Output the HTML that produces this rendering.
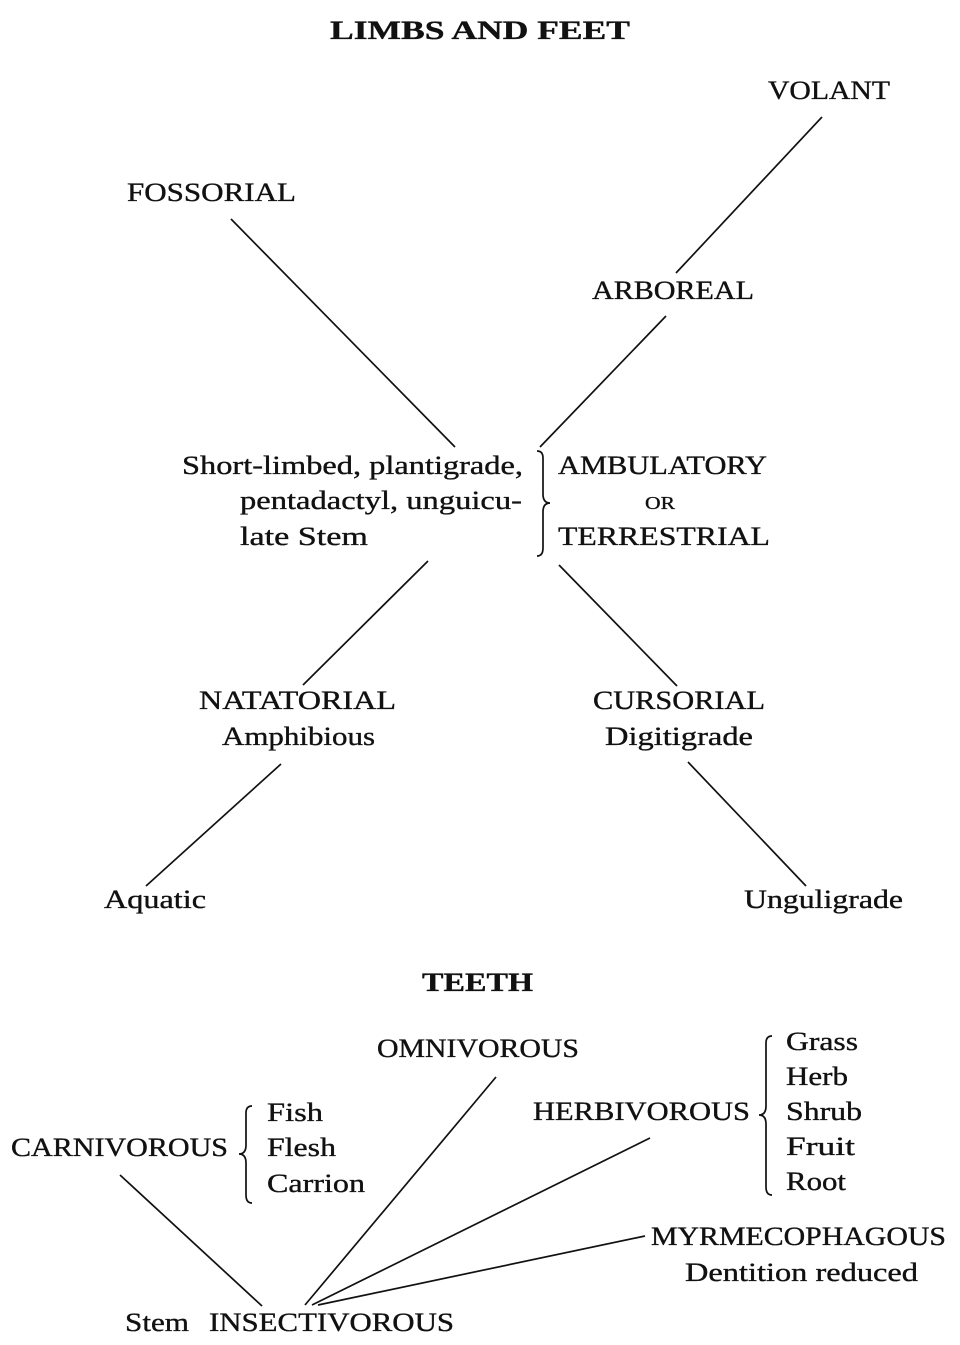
<!DOCTYPE html>
<html><head><meta charset="utf-8"><style>
html,body{margin:0;padding:0;background:#fff;}
svg{display:block;}
text{font-family:"Liberation Serif",serif;font-size:26px;fill:#111;stroke:#111;stroke-width:0.35;}
.b{font-weight:bold;}
line,path{stroke:#111;stroke-width:1.7;fill:none;}
</style></head><body>
<svg width="960" height="1345" viewBox="0 0 960 1345" xmlns="http://www.w3.org/2000/svg">
<text class="b" x="330" y="39" textLength="300" lengthAdjust="spacingAndGlyphs">LIMBS AND FEET</text>
<text x="768" y="99" textLength="122" lengthAdjust="spacingAndGlyphs">VOLANT</text>
<text x="127" y="201" textLength="169" lengthAdjust="spacingAndGlyphs">FOSSORIAL</text>
<text x="592" y="299" textLength="162" lengthAdjust="spacingAndGlyphs">ARBOREAL</text>
<text x="182" y="474" textLength="341" lengthAdjust="spacingAndGlyphs">Short-limbed, plantigrade,</text>
<text x="240" y="509" textLength="282" lengthAdjust="spacingAndGlyphs">pentadactyl, unguicu-</text>
<text x="240" y="545" textLength="128" lengthAdjust="spacingAndGlyphs">late Stem</text>
<text x="558" y="474" textLength="209" lengthAdjust="spacingAndGlyphs">AMBULATORY</text>
<text x="645" y="509" style="font-size:18px" textLength="30" lengthAdjust="spacingAndGlyphs">OR</text>
<text x="558" y="545" textLength="212" lengthAdjust="spacingAndGlyphs">TERRESTRIAL</text>
<text x="199" y="709" textLength="197" lengthAdjust="spacingAndGlyphs">NATATORIAL</text>
<text x="222" y="745" textLength="153" lengthAdjust="spacingAndGlyphs">Amphibious</text>
<text x="593" y="709" textLength="172" lengthAdjust="spacingAndGlyphs">CURSORIAL</text>
<text x="605" y="745" textLength="148" lengthAdjust="spacingAndGlyphs">Digitigrade</text>
<text x="104" y="908" textLength="102" lengthAdjust="spacingAndGlyphs">Aquatic</text>
<text x="744" y="908" textLength="159" lengthAdjust="spacingAndGlyphs">Unguligrade</text>

<text class="b" x="422" y="991" textLength="111" lengthAdjust="spacingAndGlyphs">TEETH</text>
<text x="377" y="1057" textLength="202" lengthAdjust="spacingAndGlyphs">OMNIVOROUS</text>
<text x="533" y="1120" textLength="217" lengthAdjust="spacingAndGlyphs">HERBIVOROUS</text>
<text x="786" y="1050" textLength="72" lengthAdjust="spacingAndGlyphs">Grass</text>
<text x="786" y="1085" textLength="62" lengthAdjust="spacingAndGlyphs">Herb</text>
<text x="786" y="1120" textLength="76" lengthAdjust="spacingAndGlyphs">Shrub</text>
<text x="786" y="1155" textLength="69" lengthAdjust="spacingAndGlyphs">Fruit</text>
<text x="786" y="1190" textLength="60" lengthAdjust="spacingAndGlyphs">Root</text>
<text x="11" y="1156" textLength="217" lengthAdjust="spacingAndGlyphs">CARNIVOROUS</text>
<text x="267" y="1121" textLength="56" lengthAdjust="spacingAndGlyphs">Fish</text>
<text x="267" y="1156" textLength="69" lengthAdjust="spacingAndGlyphs">Flesh</text>
<text x="267" y="1192" textLength="98" lengthAdjust="spacingAndGlyphs">Carrion</text>
<text x="651" y="1245" textLength="295" lengthAdjust="spacingAndGlyphs">MYRMECOPHAGOUS</text>
<text x="685" y="1281" textLength="233" lengthAdjust="spacingAndGlyphs">Dentition reduced</text>
<text x="125" y="1331" textLength="64" lengthAdjust="spacingAndGlyphs">Stem</text>
<text x="209" y="1331" textLength="245" lengthAdjust="spacingAndGlyphs">INSECTIVOROUS</text>

<line x1="231" y1="219" x2="455" y2="447"/>
<line x1="822" y1="117" x2="676" y2="273"/>
<line x1="666" y1="316" x2="540" y2="447"/>
<line x1="428" y1="561" x2="303" y2="685"/>
<line x1="559" y1="565" x2="677" y2="686"/>
<line x1="281" y1="764" x2="146" y2="886"/>
<line x1="688" y1="762" x2="806" y2="886"/>
<line x1="120" y1="1175" x2="262" y2="1306"/>
<line x1="496" y1="1077" x2="305" y2="1305"/>
<line x1="650" y1="1138" x2="312" y2="1305"/>
<line x1="645" y1="1236" x2="318" y2="1305"/>

<path d="M537 451 Q543 451 543 458 L543 494 Q543 503 550 503 Q543 503 543 512 L543 548 Q543 556 537 556"/>
<path d="M772 1036 Q766 1036 766 1043 L766 1106 Q766 1115 759 1115 Q766 1115 766 1124 L766 1187 Q766 1195 772 1195"/>
<path d="M252 1106 Q246 1106 246 1113 L246 1145 Q246 1154 239 1154 Q246 1154 246 1163 L246 1195 Q246 1203 252 1203"/>
</svg>
</body></html>
